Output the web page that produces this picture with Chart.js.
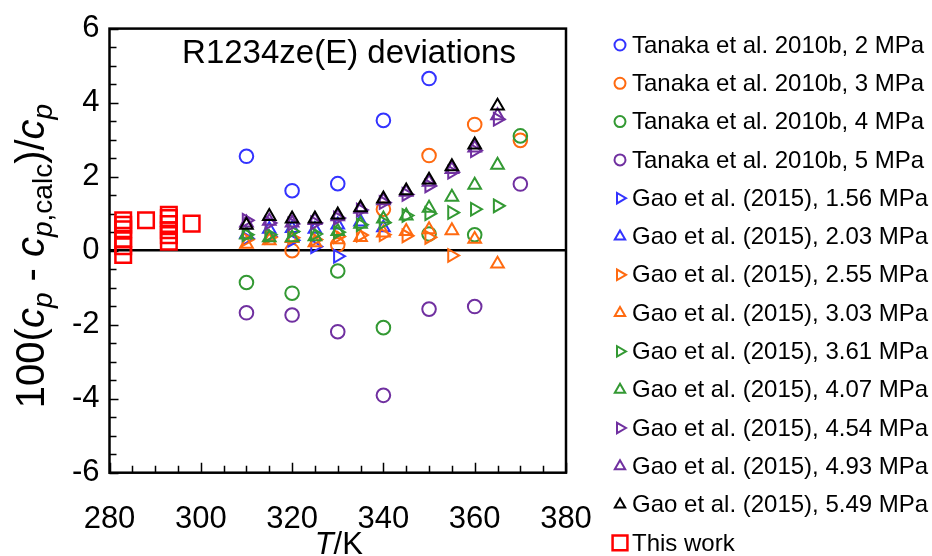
<!DOCTYPE html>
<html lang="en">
<head>
<meta charset="UTF-8">
<title>R1234ze(E) deviations</title>
<script src="https://cdn.jsdelivr.net/npm/chart.js"></script>
<style>
  html, body { margin: 0; padding: 0; background: #fff; }
  #wrap { width: 932px; height: 556px; }
</style>
</head>
<body>
<div id="wrap"><canvas id="myChart" width="932" height="556"></canvas></div>
<script>
// temperatures (K)
const tanakaT = [310, 320, 330, 340, 350, 360, 370];
const gaoT = [310, 315, 320, 325, 330, 335, 340, 345, 350, 355, 360, 365];
const thisWorkT = [283, 283, 283, 283, 283, 283, 288, 293, 293, 293, 293, 293, 293, 298];

// deviations 100(cp - cp,calc)/cp
const tanaka2 = [2.55, 1.62, 1.81, 3.52, 4.65];
const tanaka3T = [320, 330, 340, 350, 360, 370];
const tanaka3 = [0.0, 0.16, 1.12, 2.57, 3.41, 2.98];
const tanaka4 = [-0.86, -1.15, -0.55, -2.08, 0.45, 0.43, 3.1];
const tanaka5 = [-1.68, -1.74, -2.19, -3.91, -1.58, -1.51, 1.8];

const gao156 = [0.33, 0.38, 0.28, 0.11, -0.15];
const gao203 = [0.45, 0.58, 0.6, 0.58, 0.7, 0.78, 0.62];
const gao255 = [0.3, 0.36, 0.35, 0.3, 0.38, 0.42, 0.43, 0.4, 0.36, -0.13];
const gao303 = [0.18, 0.27, 0.33, 0.22, 0.3, 0.36, 0.48, 0.52, 0.57, 0.54, 0.31, -0.36];
const gao361 = [0.43, 0.43, 0.52, 0.45, 0.5, 0.7, 0.76, 0.95, 1.0, 1.03, 1.12, 1.21];
const gao407 = [0.43, 0.35, 0.35, 0.38, 0.52, 0.72, 0.86, 0.94, 1.15, 1.45, 1.77, 2.31];
const gao454 = [0.82, 0.75, 0.72, 0.75, 0.88, 1.1, 1.3, 1.52, 1.75, 2.12, 2.7, 3.55];
const gao493 = [0.75, 0.8, 0.75, 0.82, 0.92, 1.12, 1.35, 1.58, 1.85, 2.2, 2.78, 3.65];
const gao549 = [0.69, 0.93, 0.86, 0.86, 0.97, 1.16, 1.4, 1.62, 1.91, 2.27, 2.86, 3.91];

const thisWork = [0.82, 0.7, 0.58, 0.32, 0.12, -0.12, 0.82, 0.97, 0.88, 0.72, 0.55, 0.42, 0.24, 0.73];

const xTicks = [280, 300, 320, 340, 360, 380];
const yTicks = [-6, -4, -2, 0, 2, 4, 6];

const FONT = "'Liberation Sans', Arial, sans-serif";
const BLUE = '#3333ff', ORANGE = '#ff6a10', GREEN = '#339933', PURPLE = '#7030a0', BLACK = '#000000', RED = '#ff0000';

function pts(ts, vs) {
  return vs.map((v, i) => ({ x: ts[i], y: v }));
}

function series(label, ts, vs, color, style, rot) {
  const isCircle = style === 'circle';
  const isRect = style === 'rect';
  return {
    label: label,
    data: pts(ts, vs),
    borderColor: color,
    backgroundColor: 'rgba(0,0,0,0)',
    pointStyle: style,
    pointRotation: rot || 0,
    pointRadius: isCircle ? 6.8 : (isRect ? 11 : 7.3),
    pointBorderWidth: isRect ? 2.5 : 2,
    showLine: false
  };
}

const datasets = [
  series('Tanaka et al. 2010b, 2 MPa', tanakaT, tanaka2, BLUE, 'circle'),
  series('Tanaka et al. 2010b, 3 MPa', tanaka3T, tanaka3, ORANGE, 'circle'),
  series('Tanaka et al. 2010b, 4 MPa', tanakaT, tanaka4, GREEN, 'circle'),
  series('Tanaka et al. 2010b, 5 MPa', tanakaT, tanaka5, PURPLE, 'circle'),
  series('Gao et al. (2015), 1.56 MPa', gaoT, gao156, BLUE, 'triangle', 90),
  series('Gao et al. (2015), 2.03 MPa', gaoT, gao203, BLUE, 'triangle'),
  series('Gao et al. (2015), 2.55 MPa', gaoT, gao255, ORANGE, 'triangle', 90),
  series('Gao et al. (2015), 3.03 MPa', gaoT, gao303, ORANGE, 'triangle'),
  series('Gao et al. (2015), 3.61 MPa', gaoT, gao361, GREEN, 'triangle', 90),
  series('Gao et al. (2015), 4.07 MPa', gaoT, gao407, GREEN, 'triangle'),
  series('Gao et al. (2015), 4.54 MPa', gaoT, gao454, PURPLE, 'triangle', 90),
  series('Gao et al. (2015), 4.93 MPa', gaoT, gao493, PURPLE, 'triangle'),
  series('Gao et al. (2015), 5.49 MPa', gaoT, gao549, BLACK, 'triangle'),
  series('This work', thisWorkT, thisWork, RED, 'rect')
];
// later series on top, like the spreadsheet
datasets.forEach((d, i) => { d.order = datasets.length - i; });

// frame, inward ticks, title, axis titles and legend
const decor = {
  id: 'decor',
  beforeDatasetsDraw(chart) {
    const ctx = chart.ctx;
    const a = chart.chartArea;
    const xs = chart.scales.x, ys = chart.scales.y;
    ctx.save();
    ctx.strokeStyle = '#000';
    ctx.lineWidth = 1.5;
    ctx.beginPath();
    for (let t = 280; t <= 380; t += 5) {
      const px = Math.round(xs.getPixelForValue(t)) + 0.5;
      const len = (t % 20 === 0) ? 10 : 7;
      ctx.moveTo(px, a.bottom);
      ctx.lineTo(px, a.bottom - len);
    }
    for (let v = -6; v <= 6; v += 0.5) {
      const py = Math.round(ys.getPixelForValue(v)) + 0.5;
      const len = (v % 2 === 0) ? 9 : 7;
      ctx.moveTo(a.left, py);
      ctx.lineTo(a.left + len, py);
    }
    ctx.stroke();
    ctx.lineWidth = 2.5;
    ctx.strokeRect(a.left, a.top, a.right - a.left, a.bottom - a.top);
    ctx.restore();
  },
  afterDraw(chart) {
    const ctx = chart.ctx;
    const a = chart.chartArea;
    ctx.save();
    ctx.fillStyle = '#000';

    // title inside plot
    ctx.font = '33px ' + FONT;
    ctx.textAlign = 'center';
    ctx.textBaseline = 'alphabetic';
    ctx.fillText('R1234ze(E) deviations', 349, 63);

    // x axis title
    ctx.textAlign = 'left';
    const xParts = [{ t: 'T', f: 'italic 31px ' + FONT }, { t: '/K', f: '31px ' + FONT }];
    let w = 0;
    xParts.forEach(p => { ctx.font = p.f; w += ctx.measureText(p.t).width; });
    let x0 = (a.left + a.right) / 2 + 1 - w / 2;
    xParts.forEach(p => { ctx.font = p.f; ctx.fillText(p.t, x0, 554); x0 += ctx.measureText(p.t).width; });

    // y axis title
    const fs = 40, sub = 28;
    const yParts = [
      { t: '100(', f: fs + 'px ' + FONT, d: 0 },
      { t: 'c', f: 'italic ' + fs + 'px ' + FONT, d: 0 },
      { t: 'p', f: 'italic ' + sub + 'px ' + FONT, d: 8 },
      { t: ' - ', f: fs + 'px ' + FONT, d: 0 },
      { t: 'c', f: 'italic ' + fs + 'px ' + FONT, d: 0 },
      { t: 'p', f: 'italic ' + sub + 'px ' + FONT, d: 8 },
      { t: ',calc', f: sub + 'px ' + FONT, d: 8 },
      { t: ')/', f: fs + 'px ' + FONT, d: 0 },
      { t: 'c', f: 'italic ' + fs + 'px ' + FONT, d: 0 },
      { t: 'p', f: 'italic ' + sub + 'px ' + FONT, d: 8 }
    ];
    w = 0;
    yParts.forEach(p => { ctx.font = p.f; w += ctx.measureText(p.t).width; });
    ctx.translate(44, 256);
    ctx.rotate(-Math.PI / 2);
    x0 = -w / 2;
    yParts.forEach(p => { ctx.font = p.f; ctx.fillText(p.t, x0, p.d); x0 += ctx.measureText(p.t).width; });
    ctx.restore();

    // legend
    ctx.save();
    ctx.font = '24px ' + FONT;
    ctx.textAlign = 'left';
    ctx.textBaseline = 'middle';
    chart.data.datasets.forEach((d, i) => {
      const y = 45 + i * 38.3;
      const isRect = d.pointStyle === 'rect';
      ctx.strokeStyle = d.borderColor;
      ctx.fillStyle = 'rgba(0,0,0,0)';
      ctx.lineWidth = isRect ? 2.5 : 2;
      Chart.helpers.drawPoint(ctx, {
        pointStyle: d.pointStyle,
        rotation: d.pointRotation,
        radius: d.pointStyle === 'circle' ? 5.5 : (isRect ? 10.5 : 6),
        borderWidth: ctx.lineWidth
      }, 620, y);
      ctx.fillStyle = '#000';
      ctx.fillText(d.label, 632, y + 1);
    });
    ctx.restore();
  }
};

const config = {
  type: 'scatter',
  data: { datasets: datasets },
  options: {
    responsive: false,
    animation: false,
    layout: { padding: { top: 26.6, right: 366, left: 0, bottom: 0 } },
    plugins: { legend: { display: false }, tooltip: { enabled: false } },
    scales: {
      x: {
        type: 'linear', min: 280, max: 380,
        afterBuildTicks: s => { s.ticks = xTicks.map(v => ({ value: v })); },
        afterFit: s => { s.height = 83.3; },
        ticks: { color: '#000', font: { family: FONT, size: 31 }, padding: 20, maxRotation: 0 },
        grid: { display: false },
        border: { display: false }
      },
      y: {
        type: 'linear', min: -6, max: 6,
        afterBuildTicks: s => { s.ticks = yTicks.map(v => ({ value: v })); },
        afterFit: s => { s.width = 109.5; },
        ticks: { color: '#000', font: { family: FONT, size: 31 }, padding: 10 },
        grid: {
          drawTicks: false,
          color: c => (c.tick && c.tick.value === 0) ? '#000' : 'rgba(0,0,0,0)',
          lineWidth: 2.5
        },
        border: { display: false }
      }
    }
  },
  plugins: [decor]
};

const myChart = new Chart(document.getElementById('myChart'), config);
</script>
</body>
</html>
